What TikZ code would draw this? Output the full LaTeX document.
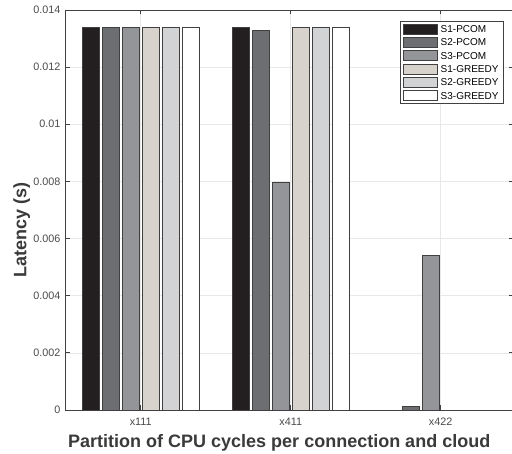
\documentclass[tikz,border=0pt]{standalone}
\usepackage{fontspec}
\setmainfont{Liberation Sans}
\definecolor{cSonePcom}{HTML}{231F20}
\definecolor{cStwoPcom}{HTML}{6D6E71}
\definecolor{cSthreePcom}{HTML}{939598}
\definecolor{cSoneGreedy}{HTML}{D7D3CC}
\definecolor{cStwoGreedy}{HTML}{D1D3D4}
\definecolor{cSthreeGreedy}{HTML}{FFFFFF}
\definecolor{axiscol}{HTML}{404040}
\definecolor{gridcol}{HTML}{E8E8E8}
\definecolor{ticktext}{HTML}{4A4A4A}
\definecolor{labeltext}{HTML}{3A3A3A}
\begin{document}
\begin{tikzpicture}[x=1pt,y=1pt,
  bar/.style={draw=axiscol, line width=0.8pt},
  gridline/.style={gridcol, line width=0.7pt},
  axisline/.style={axiscol, line width=0.8pt},
  ticklabel/.style={font=\fontsize{10.8}{12}\selectfont, text=ticktext, inner sep=0pt},
  axislabel/.style={font=\fontsize{18}{20}\selectfont\bfseries, text=labeltext, inner sep=0pt},
  legendtext/.style={font=\fontsize{10}{11}\selectfont, text=black, inner sep=0pt, anchor=west},
]
\useasboundingbox (0,0) rectangle (512,454);
\fill[white] (0,0) rectangle (512,454);

% plot area: x from 65.7 to 515.7, y from 44 (0) to 444 (0.014)
\def\xl{65.7}\def\xr{515.7}\def\yb{44}\def\yt{444}

% grid
\foreach \k in {1,...,6}
  \draw[gridline] (\xl,{\yb+\k*400/7}) -- (512,{\yb+\k*400/7});
\foreach \g in {140.7,290.7,440.7}
  \draw[gridline] (\g,\yb) -- (\g,\yt);

% bars: center / height / fill
\foreach \cx/\h/\c in {
  90.7/382.7/cSonePcom, 110.7/382.7/cStwoPcom, 130.7/382.7/cSthreePcom,
  150.7/382.7/cSoneGreedy, 170.7/382.7/cStwoGreedy, 190.7/382.7/cSthreeGreedy,
  240.7/382.7/cSonePcom, 260.7/379.3/cStwoPcom, 280.7/227.7/cSthreePcom,
  300.7/382.7/cSoneGreedy, 320.7/382.7/cStwoGreedy, 340.7/382.7/cSthreeGreedy,
  410.7/3.3/cStwoPcom, 430.7/154.7/cSthreePcom}
  \filldraw[bar, fill=\c] ({\cx-8.25},\yb) rectangle ({\cx+8.25},{\yb+\h});

% axes box
\draw[axisline] (\xl,\yt) -- (\xl,\yb) -- (512,\yb);
\draw[axisline] (\xl,\yt) -- (512,\yt);

% ticks
\foreach \k in {0,...,7} {
  \draw[axisline] (\xl,{\yb+\k*400/7}) -- ({\xl+4.5},{\yb+\k*400/7});
  \draw[axisline] (512,{\yb+\k*400/7}) -- (508.5,{\yb+\k*400/7});
}
\foreach \g in {140.7,290.7,440.7} {
  \draw[axisline] (\g,\yb) -- (\g,{\yb+4.5});
  \draw[axisline] (\g,\yt) -- (\g,{\yt-4.5});
}

% y tick labels
\foreach \k/\t in {0/0, 1/0.002, 2/0.004, 3/0.006, 4/0.008, 5/0.01, 6/0.012, 7/0.014}
  \node[ticklabel, anchor=east] (yt\k) at (60.5,{\yb+\k*400/7}) {\t};

% x tick labels
\node[ticklabel, anchor=base] (xa) at (140.7,28) {x111};
\node[ticklabel, anchor=base] (xb) at (290.7,28) {x411};
\node[ticklabel, anchor=base] (xc) at (440.7,28) {x422};

% axis labels
\node[axislabel, anchor=base west] (xlab) at (68,6) {Partition of CPU cycles per connection and cloud};
\node[axislabel, anchor=base west, rotate=90] (ylab) at (26.5,176) {Latency (s)};

% legend
\filldraw[draw=axiscol, line width=0.6pt, fill=white] (400,433) rectangle (503,351);
\foreach \i/\c/\t in {0/cSonePcom/S1-PCOM, 1/cStwoPcom/S2-PCOM, 2/cSthreePcom/S3-PCOM,
                      3/cSoneGreedy/S1-GREEDY, 4/cStwoGreedy/S2-GREEDY, 5/cSthreeGreedy/S3-GREEDY} {
  \filldraw[bar, fill=\c] (403,{425-13.33*\i-5}) rectangle (437,{425-13.33*\i+5});
  \node[legendtext] (lg\i) at (440.5,{425-13.33*\i}) {\t};
}
\end{tikzpicture}
\end{document}
